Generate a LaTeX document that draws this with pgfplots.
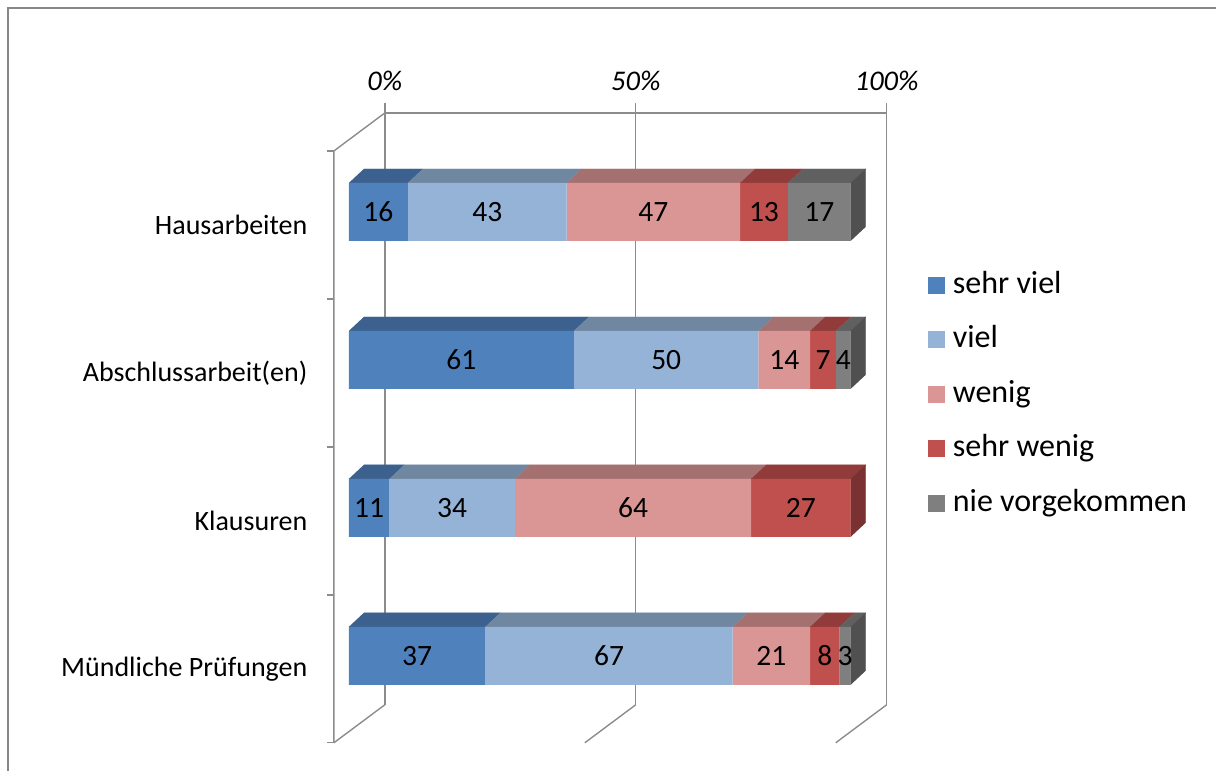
\documentclass[border=0pt]{standalone}
\usepackage{pgfplots}
\pgfplotsset{compat=1.18}
\usepackage{fontspec}
\setmainfont{Carlito}
\definecolor{cA}{HTML}{4F81BD}\definecolor{cAt}{HTML}{3C618F}
\definecolor{cB}{HTML}{95B3D7}\definecolor{cBt}{HTML}{7087A2}
\definecolor{cC}{HTML}{D99694}\definecolor{cCt}{HTML}{A47170}
\definecolor{cD}{HTML}{C0504D}\definecolor{cDt}{HTML}{913C3A}\definecolor{cDs}{HTML}{793231}
\definecolor{cE}{HTML}{7F7F7F}\definecolor{cEt}{HTML}{606060}\definecolor{cEs}{HTML}{505050}
\definecolor{gridc}{HTML}{8C8C8C}
\definecolor{framec}{HTML}{878787}
\newcommand\catfont{\fontsize{28pt}{32pt}\selectfont}
\newcommand\valfont{\fontsize{29.5pt}{34pt}\selectfont}
\newcommand\legfont{\fontsize{32pt}{36pt}\selectfont}
\pgfplotsset{base/.style={x=3.691pt, y=148pt, xmin=-4.064, xmax=145.75, ymin=-0.588, ymax=3.669,
  clip=false, anchor=origin, at={(0pt,0pt)}},
  face/.style={draw=#1, line width=0.2pt, fill=#1, forget plot},
  frame/.style={gridc, line width=1.4pt, forget plot}}
\begin{document}
\begin{tikzpicture}
% axis 1: frame, tick labels, top and side faces
\begin{axis}[base,
  axis line style={draw=none}, major tick length=0pt,
  xtick={9.75,77.75,145.75}, xticklabels={\textit{0\%},\textit{50\%},\textit{100\%}},
  xticklabel pos=upper,
  xticklabel style={font=\fontsize{28.5pt}{32pt}\selectfont, yshift=19pt},
  ytick={-0.088,0.912,1.912,2.912},
  yticklabels={Mündliche Prüfungen,Klausuren,Abschlussarbeit(en),Hausarbeiten},
  yticklabel style={font=\catfont, xshift=-23pt},
]
\path (axis cs:-94.55,-0.777) rectangle (axis cs:235.17,4.4324);
\addplot[framec, line width=2pt, forget plot] coordinates {(-92.39,-0.777) (-92.39,4.3784) (235.0,4.3784)};
% back wall
\addplot[frame] coordinates {(9.75,-0.331) (9.75,3.737)};
\addplot[frame] coordinates {(77.75,-0.331) (77.75,3.737)};
\addplot[frame] coordinates {(145.75,-0.331) (145.75,3.737)};
\addplot[frame] coordinates {(9.75,3.669) (145.75,3.669)};
% floor
\addplot[frame] coordinates {(9.75,-0.331) (-4.064,-0.588)};
\addplot[frame] coordinates {(77.75,-0.331) (63.94,-0.588)};
\addplot[frame] coordinates {(145.75,-0.331) (131.94,-0.588)};
% side wall
\addplot[frame] coordinates {(-4.064,-0.588) (-4.064,3.412) (9.75,3.669)};
\addplot[frame] coordinates {(-5.96,3.412) (-4.064,3.412)};
\addplot[frame] coordinates {(-5.96,2.412) (-4.064,2.412)};
\addplot[frame] coordinates {(-5.96,1.412) (-4.064,1.412)};
\addplot[frame] coordinates {(-5.96,0.412) (-4.064,0.412)};
\addplot[frame] coordinates {(-5.96,-0.588) (-4.064,-0.588)};
% top faces: Hausarbeiten (0,16,59,106,119,136)
\addplot[face=cAt] coordinates {(0,3.196) (16,3.196) (20.06,3.2906) (4.06,3.2906)};
\addplot[face=cBt] coordinates {(16,3.196) (59,3.196) (63.06,3.2906) (20.06,3.2906)};
\addplot[face=cCt] coordinates {(59,3.196) (106,3.196) (110.06,3.2906) (63.06,3.2906)};
\addplot[face=cDt] coordinates {(106,3.196) (119,3.196) (123.06,3.2906) (110.06,3.2906)};
\addplot[face=cEt] coordinates {(119,3.196) (136,3.196) (140.06,3.2906) (123.06,3.2906)};
\addplot[face=cEs] coordinates {(136,2.804) (136,3.196) (140.06,3.2906) (140.06,2.8986)};
% Abschlussarbeit(en) (0,61,111,125,132,136)
\addplot[face=cAt] coordinates {(0,2.196) (61,2.196) (65.06,2.2906) (4.06,2.2906)};
\addplot[face=cBt] coordinates {(61,2.196) (111,2.196) (115.06,2.2906) (65.06,2.2906)};
\addplot[face=cCt] coordinates {(111,2.196) (125,2.196) (129.06,2.2906) (115.06,2.2906)};
\addplot[face=cDt] coordinates {(125,2.196) (132,2.196) (136.06,2.2906) (129.06,2.2906)};
\addplot[face=cEt] coordinates {(132,2.196) (136,2.196) (140.06,2.2906) (136.06,2.2906)};
\addplot[face=cEs] coordinates {(136,1.804) (136,2.196) (140.06,2.2906) (140.06,1.8986)};
% Klausuren (0,11,45,109,136)
\addplot[face=cAt] coordinates {(0,1.196) (11,1.196) (15.06,1.2906) (4.06,1.2906)};
\addplot[face=cBt] coordinates {(11,1.196) (45,1.196) (49.06,1.2906) (15.06,1.2906)};
\addplot[face=cCt] coordinates {(45,1.196) (109,1.196) (113.06,1.2906) (49.06,1.2906)};
\addplot[face=cDt] coordinates {(109,1.196) (136,1.196) (140.06,1.2906) (113.06,1.2906)};
\addplot[face=cDs] coordinates {(136,0.804) (136,1.196) (140.06,1.2906) (140.06,0.8986)};
% Muendliche Pruefungen (0,37,104,125,133,136)
\addplot[face=cAt] coordinates {(0,0.196) (37,0.196) (41.06,0.2906) (4.06,0.2906)};
\addplot[face=cBt] coordinates {(37,0.196) (104,0.196) (108.06,0.2906) (41.06,0.2906)};
\addplot[face=cCt] coordinates {(104,0.196) (125,0.196) (129.06,0.2906) (108.06,0.2906)};
\addplot[face=cDt] coordinates {(125,0.196) (133,0.196) (137.06,0.2906) (129.06,0.2906)};
\addplot[face=cEt] coordinates {(133,0.196) (136,0.196) (140.06,0.2906) (137.06,0.2906)};
\addplot[face=cEs] coordinates {(136,-0.196) (136,0.196) (140.06,0.2906) (140.06,-0.1014)};
\end{axis}
% axis 2: front faces of the stacked bars
\begin{axis}[base, hide axis, xbar stacked, bar width=58pt,
  legend image code/.code={\fill[#1] (0pt,-8.5pt) rectangle (17pt,8.5pt);},
  legend cell align=left,
  legend style={at={(1.0742,0.7487)}, anchor=north west, draw=none, fill=none,
    inner sep=0pt, row sep=26.5pt, font=\legfont,
    nodes={inner sep=0pt, text height=22pt, text depth=6pt},
    /tikz/every odd column/.append style={column sep=8pt}},
]
\addplot[fill=cA, draw=none] coordinates {(37,0) (11,1) (61,2) (16,3)};
\addlegendentry{sehr viel}
\addplot[fill=cB, draw=none] coordinates {(67,0) (34,1) (50,2) (43,3)};
\addlegendentry{viel}
\addplot[fill=cC, draw=none] coordinates {(21,0) (64,1) (14,2) (47,3)};
\addlegendentry{wenig}
\addplot[fill=cD, draw=none] coordinates {(8,0) (27,1) (7,2) (13,3)};
\addlegendentry{sehr wenig}
\addplot[fill=cE, draw=none] coordinates {(3,0) (0,1) (4,2) (17,3)};
\addlegendentry{nie vorgekommen}
\end{axis}
% axis 3: value labels
\begin{axis}[base, hide axis]
\addplot[draw=none, mark=none, nodes near coords, point meta=explicit symbolic,
  every node near coord/.style={anchor=center, font=\valfont, black, inner sep=0pt}]
  coordinates {
  (8,3)[16] (37.5,3)[43] (82.5,3)[47] (112.5,3)[13] (127.5,3)[17]
  (30.5,2)[61] (86,2)[50] (118,2)[14] (128.5,2)[7] (134,2)[4]
  (5.5,1)[11] (28,1)[34] (77,1)[64] (122.5,1)[27]
  (18.5,0)[37] (70.5,0)[67] (114.5,0)[21] (129,0)[8] (134.5,0)[3]
  };
\end{axis}
\end{tikzpicture}
\end{document}
